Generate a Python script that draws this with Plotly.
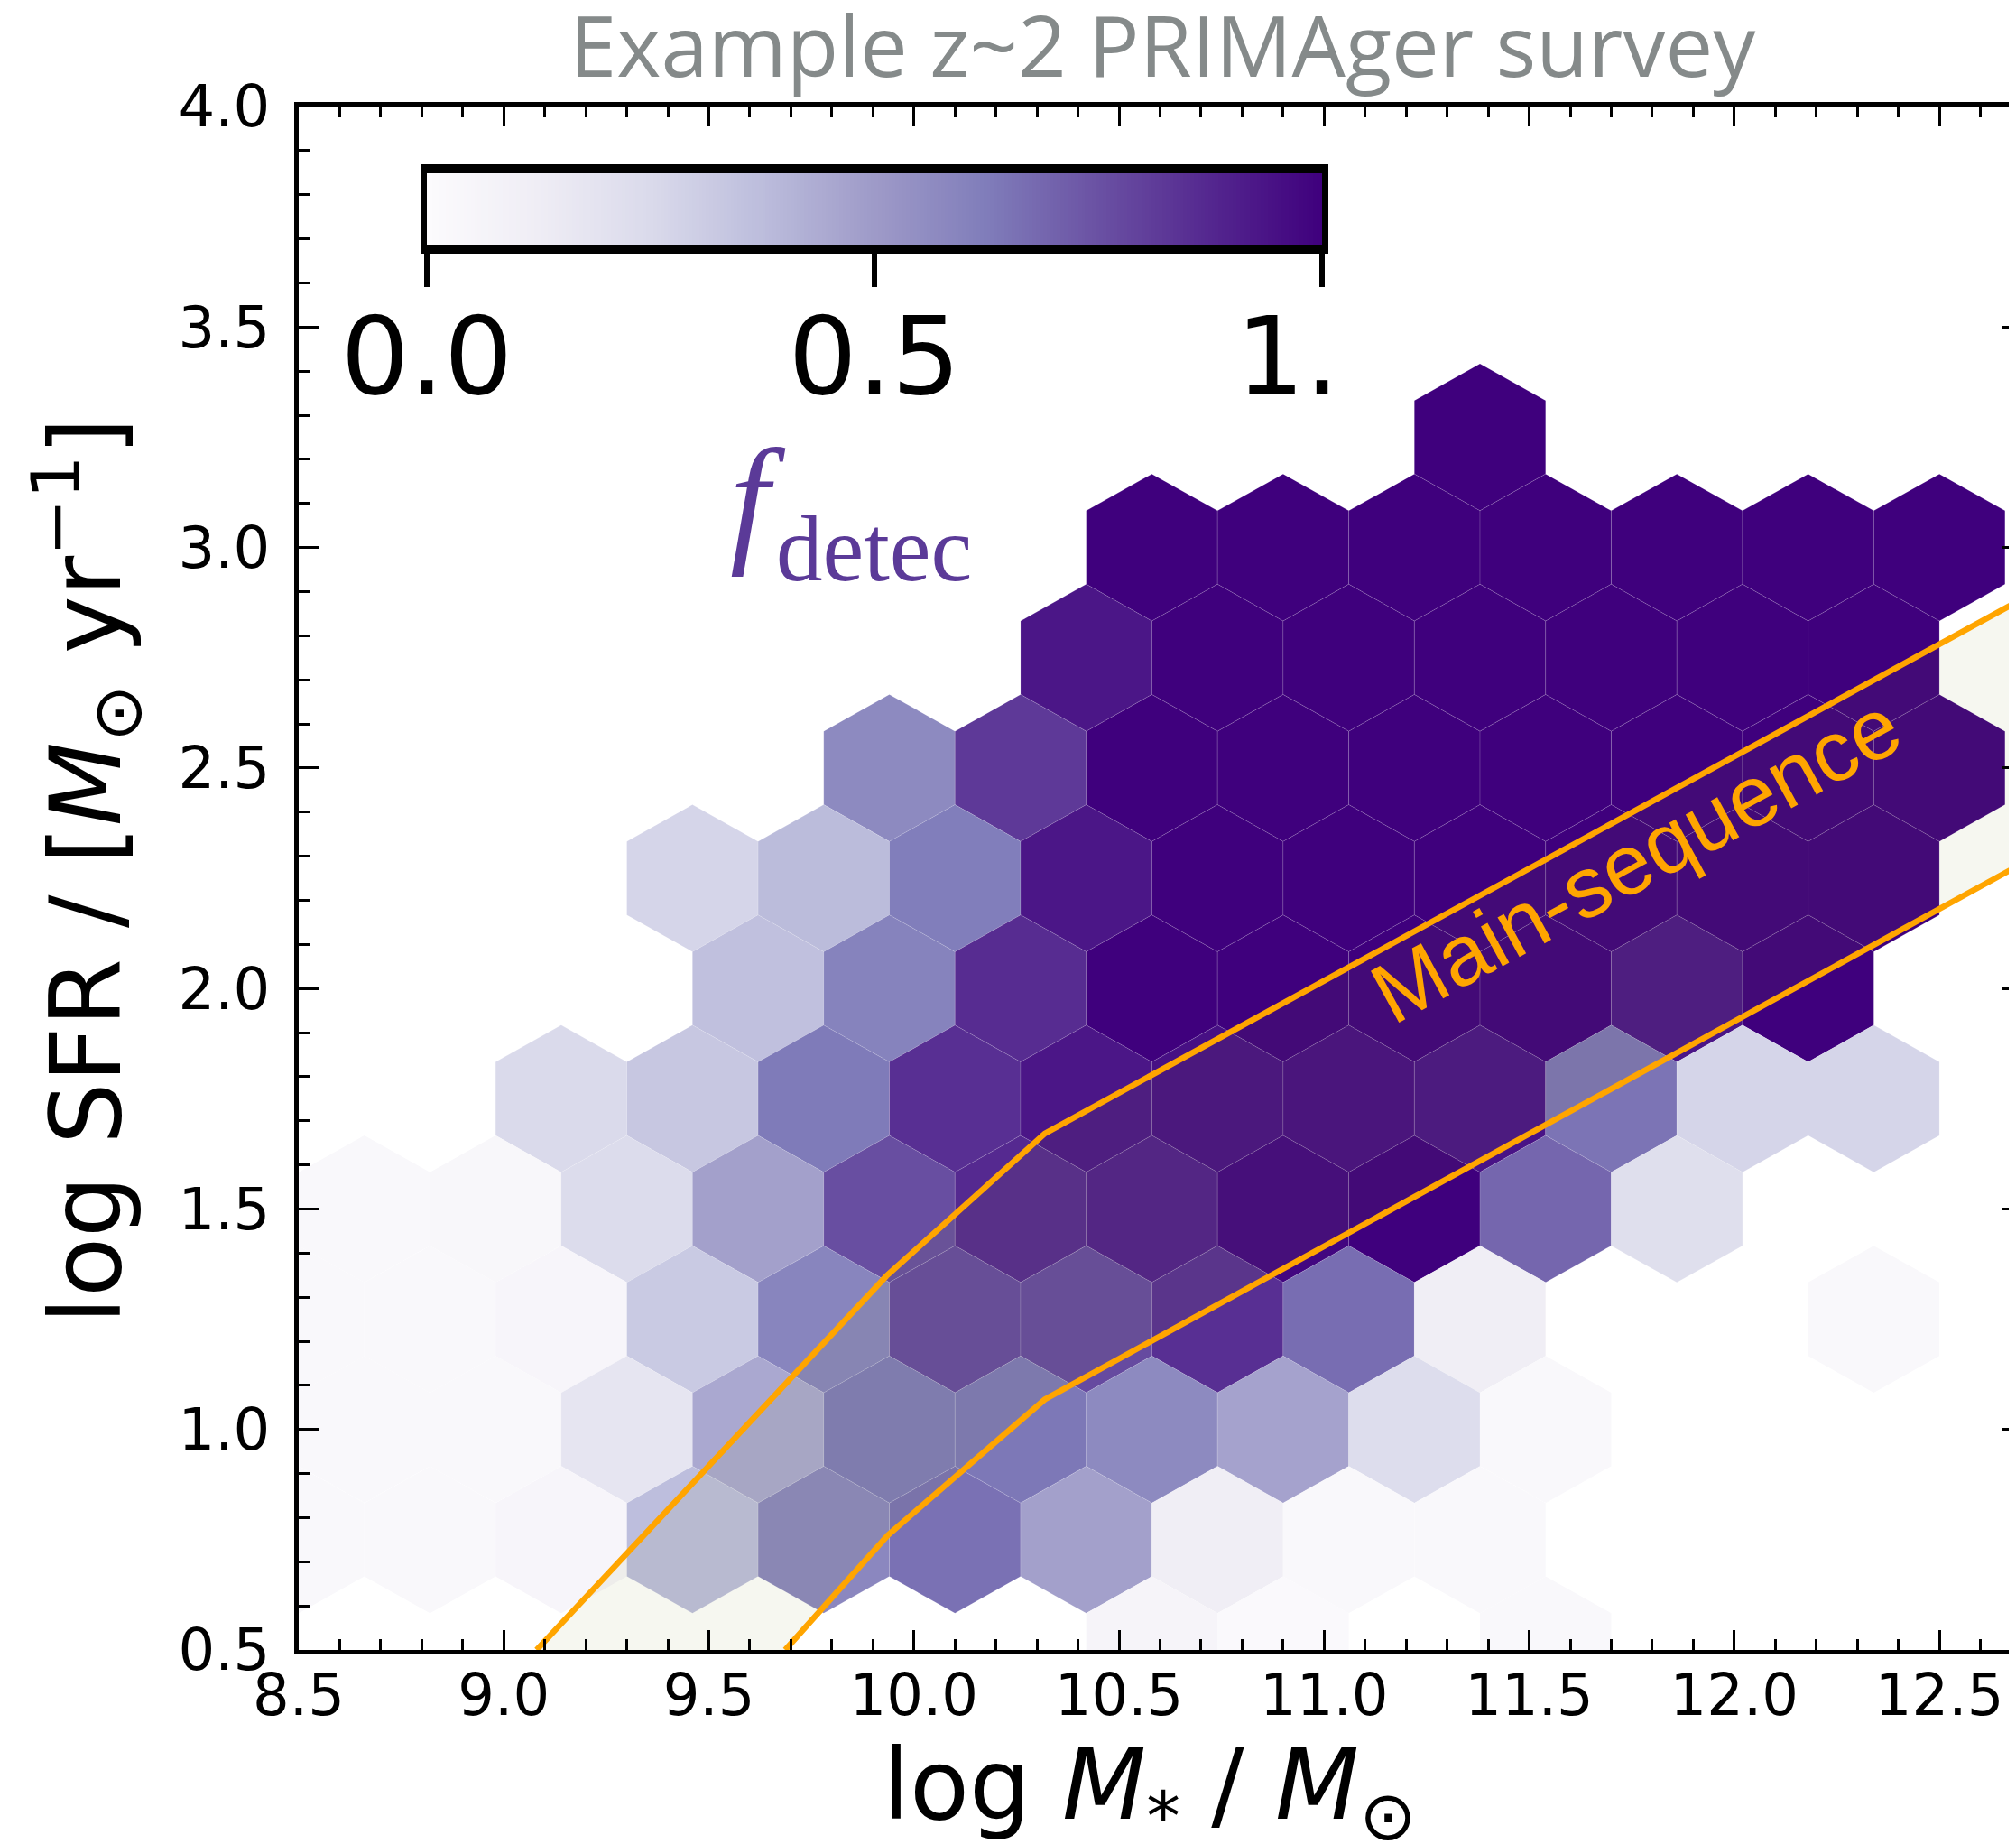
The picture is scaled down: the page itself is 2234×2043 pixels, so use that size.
import numpy as np
import plotly.graph_objects as go
from plotly.colors import sample_colorscale, sequential

# ---------------- data ----------------
# hexbin cells: centre log M*, centre log SFR, detected fraction
hex_logm = [
    11.38,
    10.58, 10.90, 11.22, 11.54, 11.86, 12.18, 12.50,
    10.42, 10.74, 11.06, 11.38, 11.70, 12.02, 12.34,
    9.94, 10.26, 10.58, 10.90, 11.22, 11.54, 11.86, 12.18, 12.50,
    9.46, 9.78, 10.10, 10.42, 10.74, 11.06, 11.38, 11.70, 12.02, 12.34,
    9.62, 9.94, 10.26, 10.58, 10.90, 11.22, 11.54, 11.86, 12.18,
    9.14, 9.46, 9.78, 10.10, 10.42, 10.74, 11.06, 11.38, 11.70, 12.02, 12.34,
    8.66, 8.98, 9.30, 9.62, 9.94, 10.26, 10.58, 10.90, 11.22, 11.54, 11.86,
    8.50, 8.82, 9.14, 9.46, 9.78, 10.10, 10.42, 10.74, 11.06, 11.38, 12.34,
    8.66, 8.98, 9.30, 9.62, 9.94, 10.26, 10.58, 10.90, 11.22, 11.54,
    8.50, 8.82, 9.14, 9.46, 9.78, 10.10, 10.42, 10.74, 11.06, 11.38,
    10.58, 10.90, 11.54,
]
hex_logsfr = (
    [3.25]
    + [3.00] * 7
    + [2.75] * 7
    + [2.50] * 9
    + [2.25] * 10
    + [2.00] * 9
    + [1.75] * 11
    + [1.50] * 11
    + [1.25] * 11
    + [1.00] * 10
    + [0.75] * 10
    + [0.50] * 3
)
hex_fdetec = [
    1.00,
    1.00, 1.00, 1.00, 1.00, 1.00, 1.00, 1.00,
    0.93, 1.00, 1.00, 1.00, 1.00, 1.00, 1.00,
    0.57, 0.82, 1.00, 1.00, 1.00, 1.00, 1.00, 1.00, 1.00,
    0.27, 0.38, 0.62, 0.93, 1.00, 1.00, 1.00, 1.00, 1.00, 1.00,
    0.36, 0.60, 0.86, 1.00, 1.00, 1.00, 1.00, 0.93, 1.00,
    0.25, 0.33, 0.63, 0.85, 0.93, 0.95, 0.96, 0.94, 0.65, 0.27, 0.27,
    0.03, 0.04, 0.24, 0.48, 0.76, 0.87, 0.90, 0.98, 1.00, 0.69, 0.22,
    0.03, 0.03, 0.05, 0.32, 0.59, 0.77, 0.77, 0.85, 0.67, 0.12, 0.03,
    0.03, 0.03, 0.18, 0.45, 0.63, 0.64, 0.57, 0.47, 0.23, 0.03,
    0.03, 0.03, 0.05, 0.37, 0.58, 0.66, 0.48, 0.12, 0.03, 0.03,
    0.06, 0.02, 0.03,
]

# main-sequence band (upper and lower edges)
ms_upper_logm = [9.08, 9.933, 10.319, 12.709]
ms_upper_logsfr = [0.50, 1.348, 1.671, 2.887]
ms_lower_logm = [9.686, 9.936, 10.319, 12.709]
ms_lower_logsfr = [0.50, 0.760, 1.068, 2.287]

x_tick_vals = [8.5, 9.0, 9.5, 10.0, 10.5, 11.0, 11.5, 12.0, 12.5]
x_tick_text = ["8.5", "9.0", "9.5", "10.0", "10.5", "11.0", "11.5", "12.0", "12.5"]
y_tick_vals = [0.5, 1.0, 1.5, 2.0, 2.5, 3.0, 3.5, 4.0]
y_tick_text = ["0.5", "1.0", "1.5", "2.0", "2.5", "3.0", "3.5", "4.0"]
cbar_tick_vals = [0.0, 0.5, 1.0]
cbar_tick_text = ["0.0", "0.5", "1.\u00a0\u00a0"]

# ---------------- styling ----------------
W, H = 2234, 2043
ML, MR, MT, MB = 323, 2, 110, 223
PW, PH = W - ML - MR, H - MT - MB
CSCALE = sequential.Purples
HEX_W, HEX_H = 0.32, 0.5  # hexbin grid pitch in x and y
TICKFONT = dict(family="DejaVu Sans", size=64, color="black")


def px_to_paper_x(px):
    return (px - ML) / PW


def px_to_paper_y(py):
    return (H - MB - py) / PH


fig = go.Figure()

# hexagons (pointy-top, matplotlib hexbin geometry)
vx = np.array([0.5, 0.5, 0.0, -0.5, -0.5, 0.0, 0.5]) * HEX_W
vy = np.array([-1 / 6, 1 / 6, 1 / 3, 1 / 6, -1 / 6, -1 / 3, -1 / 6]) * HEX_H
colors = sample_colorscale(CSCALE, hex_fdetec)
for cx, cy, col in zip(hex_logm, hex_logsfr, colors):
    fig.add_trace(go.Scatter(
        x=cx + vx, y=cy + vy, mode="lines", fill="toself",
        fillcolor=col, line=dict(color="rgba(255,255,255,0.13)", width=1),
        hoverinfo="skip", showlegend=False,
    ))

# translucent band between the two main-sequence edges
band_x = ms_upper_logm + ms_lower_logm[::-1]
band_y = ms_upper_logsfr + ms_lower_logsfr[::-1]
fig.add_trace(go.Scatter(
    x=band_x, y=band_y, mode="lines", fill="toself",
    fillcolor="rgba(128,140,40,0.07)", line=dict(width=0),
    hoverinfo="skip", showlegend=False,
))
for xs, ys in ((ms_upper_logm, ms_upper_logsfr), (ms_lower_logm, ms_lower_logsfr)):
    fig.add_trace(go.Scatter(
        x=xs, y=ys, mode="lines", line=dict(color="#FFA500", width=6.5),
        hoverinfo="skip", showlegend=False,
    ))

# inset colour bar drawn on its own axes
cb_vals = np.linspace(0, 1, 256)
fig.add_trace(go.Heatmap(
    x=cb_vals, y=[0.5], z=[cb_vals], colorscale=CSCALE, zmin=0, zmax=1,
    showscale=False, hoverinfo="skip", xaxis="x2", yaxis="y2",
))

minor_common = dict(ticks="inside", tickcolor="black", tickwidth=2.5, ticklen=12)

fig.update_layout(
    width=W, height=H,
    margin=dict(l=ML, r=MR, t=MT, b=MB, autoexpand=False),
    paper_bgcolor="white", plot_bgcolor="white",
    showlegend=False,
    xaxis=dict(
        range=[8.5, 12.7], tickmode="array", tickvals=x_tick_vals, ticktext=x_tick_text,
        ticks="inside", ticklen=22, tickwidth=3, tickcolor="black",
        showline=True, linewidth=5, linecolor="black", mirror="allticks",
        showgrid=False, zeroline=False, tickfont=TICKFONT, ticklabelstandoff=-10,
        automargin=False,
        minor=dict(tickmode="array", tickvals=list(np.round(np.arange(8.5, 12.71, 0.1), 2)),
                   **minor_common),
    ),
    yaxis=dict(
        range=[0.5, 4.0], tickmode="array", tickvals=y_tick_vals, ticktext=y_tick_text,
        ticks="inside", ticklen=22, tickwidth=3, tickcolor="black",
        showline=True, linewidth=5, linecolor="black", mirror="allticks",
        showgrid=False, zeroline=False, tickfont=TICKFONT, ticklabelstandoff=14,
        automargin=False,
        minor=dict(tickmode="array", tickvals=list(np.round(np.arange(0.5, 4.01, 0.1), 2)),
                   **minor_common),
    ),
    xaxis2=dict(
        domain=[px_to_paper_x(465), px_to_paper_x(1457)], anchor="y2",
        range=[0, 1], tickmode="array", tickvals=cbar_tick_vals, ticktext=cbar_tick_text,
        ticks="outside", ticklen=37, tickwidth=6, tickcolor="black",
        showline=True, linewidth=10, linecolor="black", mirror=True,
        showgrid=False, zeroline=False, automargin=False, ticklabelstandoff=-26,
        tickfont=dict(family="DejaVu Sans", size=120, color="black"),
    ),
    yaxis2=dict(
        domain=[px_to_paper_y(263), px_to_paper_y(184)], anchor="x2",
        range=[0, 1], showticklabels=False, ticks="",
        showline=True, linewidth=7, linecolor="black", mirror=True,
        showgrid=False, zeroline=False, automargin=False,
    ),
)

annotations = [
    dict(text="Example z~2 PRIMAger survey", x=px_to_paper_x(1280), y=px_to_paper_y(41),
         xanchor="center", yanchor="middle",
         font=dict(family="Open Sans", size=94, color="#858a8a")),
    dict(text="log SFR / [<i>M</i><sub>\u2299</sub> yr<sup>\u22121</sup>]",
         x=px_to_paper_x(88), y=px_to_paper_y(957), textangle=-90,
         xanchor="center", yanchor="middle",
         font=dict(family="DejaVu Sans", size=108, color="black")),
    dict(text="log <i>M</i><sub>*</sub> / <i>M</i><sub>\u2299</sub>",
         x=px_to_paper_x(1266), y=px_to_paper_y(1977),
         xanchor="center", yanchor="middle",
         font=dict(family="DejaVu Sans", size=108, color="black")),
    dict(text="<i>f</i>", x=px_to_paper_x(832), y=px_to_paper_y(545),
         xanchor="center", yanchor="middle",
         font=dict(family="Liberation Serif", size=156, color="#5b3a98")),
    dict(text="detec", x=px_to_paper_x(960), y=px_to_paper_y(600),
         xanchor="center", yanchor="middle",
         font=dict(family="Liberation Serif", size=103, color="#5b3a98")),
    dict(text="Main-sequence", x=px_to_paper_x(1805), y=px_to_paper_y(944),
         xanchor="center", yanchor="middle", textangle=-28.65,
         font=dict(family="Liberation Sans", size=95, color="#FFA500")),
]
for a in annotations:
    a.update(xref="paper", yref="paper", showarrow=False)
fig.update_layout(annotations=annotations)

fig.write_html("out.html")
